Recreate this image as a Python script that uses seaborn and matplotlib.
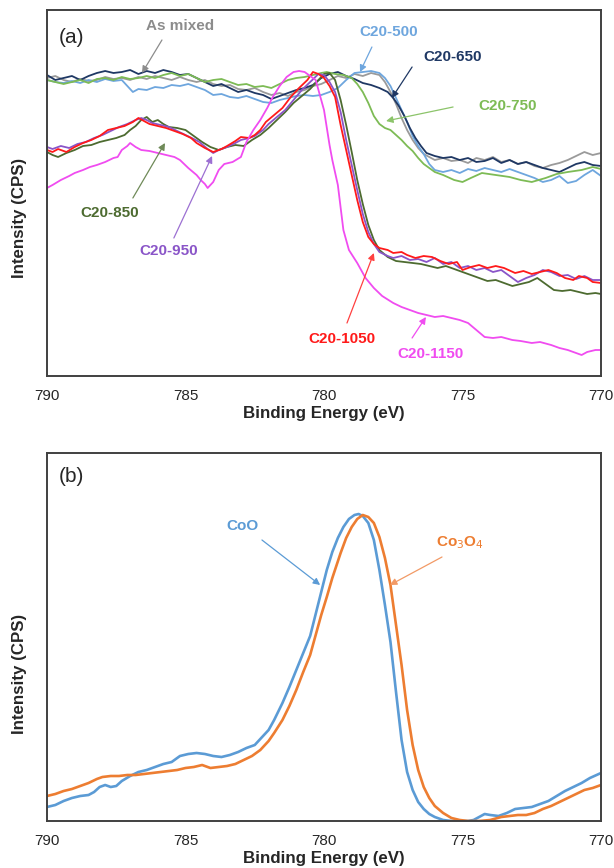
import numpy as np
import pandas as pd
import matplotlib
matplotlib.use("Agg")
import matplotlib.pyplot as plt
import seaborn as sns

# ---------------- Panel (a) data: binding energy (eV) and relative intensity ----------------
as_mixed_E = [790, 789.7, 789.4, 789.1, 788.8, 788.5, 788.2, 787.9, 787.6, 787.3, 787.0, 786.7, 786.4, 786.1, 785.8, 785.5, 785.2, 784.9, 784.6, 784.3, 784.0, 783.7, 783.4, 783.1, 782.8, 782.5, 782.2, 781.9, 781.6, 781.3, 781.0, 780.7, 780.4, 780.1, 779.8, 779.5, 779.2, 778.9, 778.6, 778.3, 778.0, 777.8, 777.6, 777.4, 777.2, 777.0, 776.8, 776.6, 776.4, 776.2, 776.0, 775.7, 775.4, 775.1, 774.8, 774.5, 774.2, 773.9, 773.6, 773.3, 773.0, 772.7, 772.4, 772.1, 771.8, 771.5, 771.2, 770.9, 770.6, 770.3, 770.0]
as_mixed_Y = [78, 76, 80, 82, 79, 81, 80, 77, 79, 78, 80, 77, 79, 76, 78, 80, 77, 80, 82, 80, 84, 86, 85, 89, 90, 88, 92, 95, 93, 96, 92, 90, 86, 84, 80, 76, 78, 74, 76, 73, 75, 82, 92, 104, 118, 130, 140, 148, 154, 157, 160, 158, 161, 160, 163, 158, 160, 157, 162, 160, 164, 162, 166, 168, 165, 163, 160, 156, 152, 155, 153]

c500_E = [790, 789.7, 789.4, 789.1, 788.8, 788.5, 788.2, 787.9, 787.6, 787.3, 787.1, 786.9, 786.7, 786.4, 786.1, 785.8, 785.5, 785.2, 784.9, 784.6, 784.3, 784.0, 783.7, 783.4, 783.1, 782.8, 782.5, 782.2, 781.9, 781.6, 781.3, 781.0, 780.7, 780.4, 780.1, 779.8, 779.5, 779.2, 778.9, 778.6, 778.3, 778.0, 777.8, 777.6, 777.4, 777.2, 777.0, 776.8, 776.6, 776.4, 776.2, 776.0, 775.7, 775.4, 775.1, 774.8, 774.5, 774.2, 773.9, 773.6, 773.3, 773.0, 772.7, 772.4, 772.1, 771.8, 771.5, 771.2, 770.9, 770.6, 770.3, 770.0]
c500_Y = [80, 82, 83, 81, 83, 80, 82, 79, 81, 80, 86, 92, 89, 90, 87, 88, 85, 86, 84, 87, 90, 95, 94, 97, 98, 96, 99, 102, 103, 100, 98, 96, 95, 96, 95, 92, 88, 80, 73, 72, 71, 73, 78, 86, 98, 110, 122, 136, 146, 154, 164, 170, 172, 170, 173, 169, 171, 168, 170, 172, 169, 172, 175, 178, 182, 180, 176, 183, 181, 175, 170, 176]

c650_E = [790, 789.7, 789.4, 789.1, 788.8, 788.5, 788.2, 787.9, 787.6, 787.3, 787.0, 786.7, 786.4, 786.1, 785.8, 785.5, 785.2, 784.9, 784.6, 784.3, 784.0, 783.7, 783.4, 783.1, 782.8, 782.5, 782.2, 781.9, 781.6, 781.3, 781.0, 780.7, 780.4, 780.1, 779.8, 779.5, 779.2, 778.9, 778.6, 778.3, 778.0, 777.7, 777.5, 777.3, 777.1, 776.9, 776.7, 776.5, 776.3, 776.0, 775.7, 775.4, 775.1, 774.8, 774.5, 774.2, 773.9, 773.6, 773.3, 773.0, 772.7, 772.4, 772.1, 771.8, 771.5, 771.2, 770.9, 770.6, 770.3, 770.0]
c650_Y = [75, 80, 78, 76, 80, 76, 73, 71, 73, 72, 70, 74, 71, 73, 70, 72, 75, 74, 78, 82, 86, 84, 88, 92, 90, 93, 95, 99, 96, 93, 90, 88, 85, 78, 74, 72, 76, 79, 83, 85, 88, 92, 98, 106, 116, 128, 138, 146, 153, 156, 158, 157, 160, 158, 162, 161, 158, 163, 160, 164, 162, 165, 168, 170, 172, 168, 164, 162, 165, 166]

c750_E = [790, 789.7, 789.4, 789.1, 788.8, 788.5, 788.2, 787.9, 787.6, 787.3, 787.0, 786.7, 786.4, 786.1, 785.8, 785.5, 785.2, 784.9, 784.6, 784.3, 784.0, 783.7, 783.4, 783.1, 782.8, 782.5, 782.2, 781.9, 781.6, 781.3, 781.0, 780.7, 780.4, 780.1, 779.9, 779.6, 779.3, 779.0, 778.8, 778.6, 778.4, 778.2, 778.0, 777.8, 777.6, 777.4, 777.2, 777.0, 776.8, 776.6, 776.4, 776.2, 776.0, 775.7, 775.3, 775.0, 774.7, 774.3, 773.8, 773.3, 772.9, 772.5, 772.0, 771.6, 771.2, 770.7, 770.3, 770.0]
c750_Y = [80, 82, 84, 82, 80, 83, 79, 78, 80, 77, 79, 78, 76, 78, 75, 73, 76, 74, 78, 82, 80, 79, 82, 85, 84, 87, 86, 88, 84, 80, 78, 77, 75, 73, 72, 74, 75, 78, 84, 92, 103, 116, 124, 128, 130, 135, 140, 146, 151, 158, 164, 168, 172, 175, 180, 182, 178, 173, 175, 177, 180, 182, 178, 174, 172, 170, 167, 169]

c850_E = [790, 789.8, 789.6, 789.3, 789.0, 788.7, 788.4, 788.1, 787.8, 787.5, 787.2, 787.0, 786.8, 786.6, 786.4, 786.2, 786.0, 785.8, 785.6, 785.3, 785.0, 784.7, 784.4, 784.1, 783.8, 783.5, 783.2, 782.9, 782.6, 782.3, 782.0, 781.7, 781.4, 781.1, 780.8, 780.5, 780.2, 780.0, 779.8, 779.6, 779.4, 779.2, 779.0, 778.8, 778.6, 778.4, 778.2, 778.0, 777.7, 777.4, 777.1, 776.8, 776.5, 776.2, 775.9, 775.6, 775.3, 775.0, 774.7, 774.4, 774.1, 773.8, 773.5, 773.2, 772.9, 772.6, 772.3, 772.0, 771.7, 771.4, 771.1, 770.8, 770.5, 770.2, 770.0]
c850_Y = [152, 155, 157, 153, 150, 146, 145, 142, 140, 138, 135, 130, 126, 120, 117, 122, 120, 124, 127, 128, 130, 136, 142, 147, 150, 147, 145, 146, 140, 135, 128, 120, 112, 103, 96, 89, 80, 74, 73, 80, 100, 125, 152, 180, 204, 225, 240, 250, 257, 261, 262, 263, 264, 266, 268, 266, 269, 272, 275, 278, 281, 280, 283, 286, 284, 282, 278, 284, 290, 291, 290, 292, 294, 293, 294]

c950_E = [790, 789.8, 789.5, 789.2, 788.9, 788.6, 788.3, 788.0, 787.7, 787.4, 787.1, 786.8, 786.6, 786.4, 786.2, 785.9, 785.6, 785.3, 785.0, 784.7, 784.5, 784.2, 784.0, 783.8, 783.5, 783.2, 783.0, 782.7, 782.5, 782.2, 782.0, 781.7, 781.4, 781.1, 780.8, 780.5, 780.2, 780.0, 779.8, 779.6, 779.4, 779.2, 779.0, 778.8, 778.6, 778.4, 778.2, 778.0, 777.7, 777.5, 777.2, 776.9, 776.6, 776.3, 776.0, 775.7, 775.4, 775.1, 774.8, 774.5, 774.2, 773.9, 773.6, 773.3, 773.0, 772.7, 772.4, 772.1, 771.8, 771.5, 771.2, 770.9, 770.6, 770.3, 770.0]
c950_Y = [147, 149, 146, 148, 144, 142, 138, 135, 131, 127, 124, 120, 118, 120, 123, 125, 127, 131, 135, 139, 142, 149, 153, 150, 147, 143, 140, 138, 136, 130, 124, 117, 110, 100, 90, 82, 74, 75, 82, 92, 112, 140, 165, 190, 214, 232, 244, 252, 256, 258, 256, 260, 259, 262, 258, 264, 262, 268, 266, 270, 268, 272, 270, 276, 282, 278, 275, 270, 272, 276, 275, 279, 276, 280, 280]

c1050_E = [790, 789.8, 789.6, 789.3, 789.0, 788.7, 788.4, 788.1, 787.8, 787.5, 787.2, 786.9, 786.7, 786.5, 786.3, 786.0, 785.7, 785.4, 785.1, 784.8, 784.6, 784.3, 784.0, 783.7, 783.5, 783.2, 783.0, 782.7, 782.5, 782.3, 782.1, 781.8, 781.5, 781.2, 780.9, 780.6, 780.4, 780.2, 780.0, 779.8, 779.6, 779.4, 779.2, 779.0, 778.8, 778.6, 778.4, 778.2, 778.0, 777.7, 777.5, 777.2, 777.0, 776.7, 776.4, 776.1, 775.8, 775.5, 775.2, 775.0, 774.7, 774.4, 774.1, 773.8, 773.5, 773.1, 772.8, 772.5, 772.2, 771.9, 771.6, 771.3, 771.0, 770.8, 770.5, 770.3, 770.0]
c1050_Y = [150, 152, 149, 152, 147, 143, 140, 136, 130, 128, 126, 122, 118, 121, 124, 126, 128, 131, 134, 138, 143, 148, 152, 149, 146, 141, 137, 138, 135, 130, 122, 115, 108, 97, 88, 80, 72, 74, 78, 86, 97, 125, 150, 175, 200, 222, 237, 244, 248, 250, 253, 252, 255, 258, 256, 257, 261, 264, 262, 270, 267, 265, 268, 266, 268, 273, 271, 274, 272, 270, 273, 278, 280, 276, 278, 282, 283]

c1150_E = [790, 789.8, 789.5, 789.2, 789.0, 788.7, 788.45, 788.2, 787.9, 787.6, 787.45, 787.3, 787.1, 787.0, 786.8, 786.6, 786.3, 786.0, 785.7, 785.4, 785.2, 784.9, 784.6, 784.45, 784.3, 784.2, 784.0, 783.8, 783.6, 783.3, 783.0, 782.8, 782.55, 782.3, 782.05, 781.85, 781.6, 781.35, 781.1, 780.9, 780.7, 780.5, 780.3, 780.1, 780.0, 779.8, 779.7, 779.5, 779.3, 779.1, 778.8, 778.5, 778.2, 777.9, 777.5, 777.2, 776.9, 776.6, 776.3, 776.0, 775.7, 775.4, 775.1, 774.8, 774.5, 774.2, 773.9, 773.6, 773.2, 772.9, 772.5, 772.2, 771.8, 771.5, 771.2, 770.9, 770.7, 770.5, 770.2, 770.0]
c1150_Y = [188, 185, 180, 176, 173, 170, 167, 165, 162, 158, 157, 150, 146, 143, 147, 150, 151, 153, 155, 157, 160, 168, 175, 180, 184, 188, 182, 170, 164, 162, 157, 142, 130, 120, 108, 97, 86, 77, 72, 71, 72, 76, 80, 100, 110, 145, 160, 185, 230, 250, 263, 278, 288, 296, 303, 307, 310, 313, 315, 317, 316, 318, 320, 323, 330, 337, 338, 337, 340, 341, 343, 342, 345, 348, 350, 353, 355, 352, 350, 350]

# ---------------- Panel (b) data ----------------
coo_E = [790, 789.7, 789.4, 789.1, 788.8, 788.5, 788.3, 788.1, 787.9, 787.7, 787.5, 787.3, 787.0, 786.7, 786.4, 786.1, 785.8, 785.5, 785.2, 784.9, 784.6, 784.3, 784.0, 783.7, 783.4, 783.1, 782.8, 782.5, 782.3, 782.0, 781.8, 781.5, 781.25, 781.0, 780.75, 780.5, 780.3, 780.1, 779.9, 779.7, 779.5, 779.3, 779.1, 778.9, 778.75, 778.6, 778.4, 778.2, 778.0, 777.8, 777.6, 777.4, 777.2, 777.0, 776.8, 776.6, 776.4, 776.2, 776.0, 775.7, 775.4, 775.1, 774.8, 774.6, 774.4, 774.2, 774.0, 773.7, 773.4, 773.1, 772.8, 772.5, 772.2, 771.9, 771.6, 771.3, 771.0, 770.7, 770.4, 770.0]
coo_Y = [807, 805, 801, 798, 796, 795, 792, 787, 785, 787, 786, 781, 776, 772, 770, 767, 764, 762, 756, 754, 753, 754, 756, 757, 755, 752, 748, 745, 739, 730, 720, 703, 687, 670, 653, 636, 614, 592, 570, 552, 538, 527, 519, 515, 514, 516, 523, 540, 570, 605, 642, 692, 740, 772, 790, 802, 809, 814, 817, 820, 821, 821, 821, 820, 817, 814, 815, 816, 813, 809, 808, 807, 804, 801, 796, 791, 787, 783, 778, 773]

co3o4_E = [790, 789.7, 789.4, 789.1, 788.8, 788.5, 788.2, 788.0, 787.7, 787.4, 787.1, 786.8, 786.5, 786.2, 785.9, 785.6, 785.3, 785.0, 784.7, 784.4, 784.1, 783.8, 783.5, 783.2, 782.9, 782.6, 782.3, 782.0, 781.8, 781.5, 781.25, 781.0, 780.75, 780.5, 780.3, 780.1, 779.9, 779.7, 779.4, 779.2, 779.0, 778.8, 778.6, 778.4, 778.2, 778.0, 777.8, 777.6, 777.4, 777.2, 777.0, 776.8, 776.6, 776.4, 776.2, 776.0, 775.7, 775.4, 775.1, 774.8, 774.4, 774.0, 773.6, 773.3, 773.0, 772.7, 772.4, 772.1, 771.8, 771.5, 771.2, 770.9, 770.6, 770.3, 770.0]
co3o4_Y = [796, 794, 791, 789, 786, 783, 779, 777, 776, 776, 775, 775, 774, 773, 772, 771, 770, 768, 767, 765, 768, 767, 766, 764, 760, 756, 750, 741, 733, 720, 706, 690, 672, 655, 635, 615, 597, 578, 553, 538, 527, 519, 515, 517, 523, 537, 558, 585, 625, 665, 710, 745, 770, 787, 798, 806, 813, 818, 820, 821, 821, 820, 817, 816, 815, 815, 813, 809, 806, 802, 798, 794, 790, 788, 785]

xticks = [790, 785, 780, 775, 770]

A_BOTTOM = 376   # reference baseline for panel (a) readings
B_BOTTOM = 821   # reference baseline for panel (b) readings

names_a = ["As mixed", "C20-500", "C20-650", "C20-750", "C20-850", "C20-950", "C20-1050", "C20-1150"]
Es_a = [as_mixed_E, c500_E, c650_E, c750_E, c850_E, c950_E, c1050_E, c1150_E]
Ys_a = [as_mixed_Y, c500_Y, c650_Y, c750_Y, c850_Y, c950_Y, c1050_Y, c1150_Y]
colors_a = ["#9a9a9a", "#6ea6de", "#1f3864", "#7dbb55", "#4d6b30", "#8a55c8", "#ff1a1a", "#f04cf0"]

frames = []
for n, e, y in zip(names_a, Es_a, Ys_a):
    frames.append(pd.DataFrame({"E": e, "I": A_BOTTOM - np.array(y, dtype=float), "sample": n}))
df_a = pd.concat(frames, ignore_index=True)

df_b = pd.concat([
    pd.DataFrame({"E": coo_E, "I": B_BOTTOM - np.array(coo_Y, dtype=float), "sample": "CoO"}),
    pd.DataFrame({"E": co3o4_E, "I": B_BOTTOM - np.array(co3o4_Y, dtype=float), "sample": "Co3O4"}),
], ignore_index=True)

sns.set_style("white")
plt.rcParams["font.family"] = ["Liberation Sans", "DejaVu Sans"]

fig = plt.figure(figsize=(6.14, 8.68), dpi=100)
ax_a = fig.add_axes([47 / 614, 1 - 376 / 868, 554 / 614, 366 / 868])
ax_b = fig.add_axes([47 / 614, 1 - 821 / 868, 554 / 614, 368 / 868])

sns.lineplot(data=df_a, x="E", y="I", hue="sample", hue_order=names_a,
             palette=dict(zip(names_a, colors_a)), estimator=None, sort=False,
             legend=False, linewidth=1.3, ax=ax_a)
sns.lineplot(data=df_b, x="E", y="I", hue="sample", hue_order=["CoO", "Co3O4"],
             palette={"CoO": "#5b9bd5", "Co3O4": "#ed7d31"}, estimator=None, sort=False,
             legend=False, linewidth=1.9, ax=ax_b)

for ax, top, ylab_y in ((ax_a, 366, 0.432), (ax_b, 368, 0.40)):
    ax.set_xlim(790, 770)
    ax.set_ylim(0, top)
    ax.set_xticks(xticks)
    ax.set_xticklabels([str(t) for t in xticks], fontsize=11)
    ax.set_yticks([])
    ax.tick_params(axis="x", direction="inout", length=5, width=1, color="#404040", pad=7)
    for s in ax.spines.values():
        s.set_color("#404040")
        s.set_linewidth(1.4)
    ax.set_xlabel("Binding Energy (eV)", fontsize=12.2, fontweight="bold", labelpad=2)
    ax.set_ylabel("Intensity (CPS)", fontsize=12.2, fontweight="bold")
    ax.yaxis.set_label_coords(-0.036, ylab_y)

ax_a.text(0.045, 0.926, "(a)", transform=ax_a.transAxes, fontsize=15, ha="center", va="center")
ax_b.text(0.045, 0.935, "(b)", transform=ax_b.transAxes, fontsize=15, ha="center", va="center")

def lab(ax, text, txy, tail, head, color, acolor):
    ax.text(txy[0], txy[1], text, color=color, fontsize=11, fontweight="bold", ha="center", va="center")
    ax.annotate("", xy=head, xytext=tail,
                arrowprops=dict(arrowstyle="-|>", color=acolor, lw=0.9, mutation_scale=10,
                                shrinkA=0, shrinkB=0))

lab(ax_a, "As mixed", (785.2, 350), (785.85, 336), (786.57, 303), "#8c8c8c", "#8c8c8c")
lab(ax_a, "C20-500", (777.65, 344), (778.27, 329), (778.70, 304), "#6ea6de", "#6ea6de")
lab(ax_a, "C20-650", (775.34, 319), (776.82, 309), (777.55, 278), "#1f3864", "#1f3864")
lab(ax_a, "C20-750", (773.36, 270), (775.34, 269), (777.76, 255), "#7dbb55", "#8cc46a")
lab(ax_a, "C20-850", (787.73, 163), (786.9, 178), (785.74, 233), "#4d6b30", "#6f8a58")
lab(ax_a, "C20-950", (785.6, 125), (785.42, 138), (784.04, 220), "#8a55c8", "#9c70d2")
lab(ax_a, "C20-1050", (779.35, 37), (779.17, 53), (778.2, 123), "#ff1a1a", "#ff4040")
lab(ax_a, "C20-1150", (776.14, 22), (776.82, 38), (776.32, 59), "#f04cf0", "#f04cf0")

lab(ax_b, "CoO", (782.96, 295), (782.24, 281), (780.14, 236), "#5b9bd5", "#5b9bd5")
lab(ax_b, "Co$_3$O$_4$", (775.09, 278), (775.74, 264), (777.62, 236), "#ed7d31", "#f29a66")

fig.savefig("out.png", dpi=100)
